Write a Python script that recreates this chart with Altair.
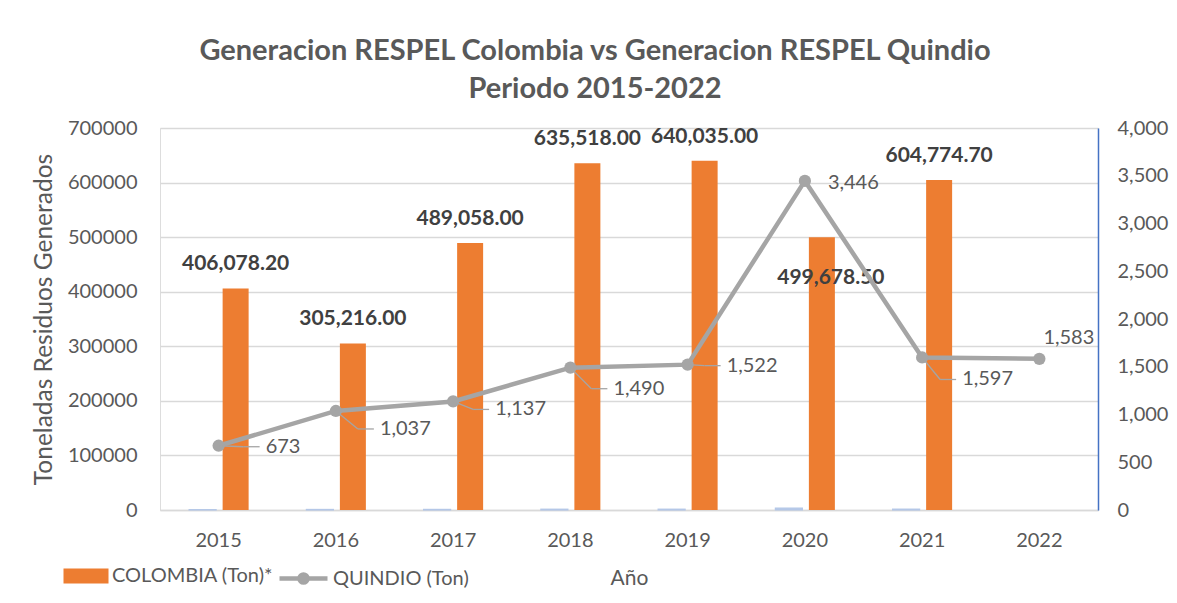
import altair as alt
import pandas as pd

# ---------------- data ----------------
years = ["2015", "2016", "2017", "2018", "2019", "2020", "2021", "2022"]
colombia = [406078.20, 305216.00, 489058.00, 635518.00, 640035.00, 499678.50, 604774.70, None]
quindio = [673, 1037, 1137, 1490, 1522, 3446, 1597, 1583]
series_names = ["COLOMBIA (Ton)*", "QUINDIO (Ton)"]
left_ticks = [0, 100000, 200000, 300000, 400000, 500000, 600000, 700000]
right_ticks = [0, 500, 1000, 1500, 2000, 2500, 3000, 3500, 4000]
title_lines = ["Generacion RESPEL Colombia vs Generacion RESPEL Quindio", "Periodo 2015-2022"]

df = pd.DataFrame({"year": years, "colombia": colombia, "quindio": quindio})
df["s_col"] = series_names[0]
df["s_qui"] = series_names[1]

# ---------------- style ----------------
FONT = "Lato"
ORANGE = "#ED7D31"
GRAY = "#A5A5A5"
TXT = "#595959"
DARK = "#404040"
BLUE = "#4472C4"

# label offsets (pixels) for the QUINDIO labels: dx, dy, leader line
q_label_style = {
    "2015": (47, 1, True),
    "2016": (44, 18, True),
    "2017": (42, 8, True),
    "2018": (43, 21, True),
    "2019": (39, 1, True),
    "2020": (23, 2, False),
    "2021": (40, 22, True),
    "2022": (4, -21, False),
}

x_axis = alt.Axis(
    title="Año", labelAngle=0, ticks=False, domainColor="#D9D9D9", domainWidth=1.5,
    labelFont=FONT, labelFontSize=20, labelColor=TXT, labelPadding=20,
    titleFont=FONT, titleFontSize=21, titleFontWeight="normal", titleColor=TXT,
    titlePadding=17, grid=False,
)
x_scale = alt.Scale(paddingInner=0, paddingOuter=0)


def xe(**kw):
    return alt.X("year:N", sort=years, scale=x_scale, axis=x_axis, **kw)


yl_axis = alt.Axis(
    values=left_ticks, format="d", title="Toneladas Residuos Generados",
    domain=False, ticks=False, grid=True, gridColor="#D9D9D9", gridWidth=1.3,
    labelFont=FONT, labelFontSize=20, labelColor=TXT, labelPadding=23,
    titleFont=FONT, titleFontSize=24.5, titleFontWeight="normal", titleColor=TXT,
    titlePadding=11,
)
yr_axis = alt.Axis(
    orient="right", values=right_ticks, format=",.0f", title=None,
    domain=True, domainColor=BLUE, domainWidth=1.5, ticks=False, grid=False,
    labelFont=FONT, labelFontSize=20, labelColor=TXT, labelPadding=19,
)
yl_scale = alt.Scale(domain=[0, 700000])
yr_scale = alt.Scale(domain=[0, 4000])


def yl(field):
    return alt.Y(field, scale=yl_scale, axis=yl_axis, title="Toneladas Residuos Generados")


def yr(field):
    return alt.Y(field, scale=yr_scale, axis=yr_axis, title=None)


base = alt.Chart(df)

bars = base.mark_bar(xOffset=17, width=26).encode(
    x=xe(),
    y=yl("colombia:Q"),
    color=alt.Color(
        "s_col:N",
        scale=alt.Scale(domain=[series_names[0]], range=[ORANGE]),
        legend=alt.Legend(
            title=None, orient="none", legendX=-89, legendY=433,
            symbolType="M-1.5,-0.5H1.5V0.5H-1.5Z", symbolSize=900,
            symbolStrokeWidth=0, labelOffset=11, labelLimit=400,
            labelFont=FONT, labelFontSize=20, labelColor=TXT, padding=0,
        ),
    ),
)

blue_bars = base.transform_filter("datum.colombia != null").mark_bar(
    xOffset=-16, width=27, color="#B4C7E7", stroke="#B4C7E7", strokeWidth=1.2
).encode(x=xe(), y=yl("quindio:Q"))

bar_text_normal = base.transform_filter(
    "datum.colombia != null && datum.year != '2020'"
).mark_text(
    xOffset=17, dy=-24, baseline="middle", font=FONT, fontWeight="bold",
    fontSize=21, color=DARK,
).encode(
    x=xe(), y=yl("colombia:Q"),
    text=alt.Text("colombia:Q", format=",.2f"),
)

bar_text_2020 = base.transform_filter("datum.year == '2020'").mark_text(
    xOffset=26, dy=41, baseline="middle", font=FONT, fontWeight="bold",
    fontSize=21, color=DARK,
).encode(
    x=xe(), y=yl("colombia:Q"),
    text=alt.Text("colombia:Q", format=",.2f"),
)

left = alt.layer(bars, blue_bars, bar_text_normal, bar_text_2020)

line = base.mark_line(strokeWidth=4.5).encode(
    x=xe(),
    y=yr("quindio:Q"),
    stroke=alt.Stroke(
        "s_qui:N",
        scale=alt.Scale(domain=[series_names[1]], range=[GRAY]),
        legend=alt.Legend(
            title=None, orient="none", legendX=126, legendY=433,
            symbolType="M-1.6,0H1.6M-0.27,0A0.27,0.27,0,1,1,0.27,0A0.27,0.27,0,1,1,-0.27,0",
            symbolSize=900, symbolStrokeWidth=4.5, symbolFillColor=GRAY,
            labelOffset=12, labelLimit=400,
            labelFont=FONT, labelFontSize=20, labelColor=TXT, padding=0,
        ),
    ),
)

points = base.mark_point(filled=True, size=150, color=GRAY, opacity=1).encode(
    x=xe(), y=yr("quindio:Q")
)

right_layers = [line, points]
for yrk, (dx, dy, leader) in q_label_style.items():
    sub = base.transform_filter(f"datum.year == '{yrk}'")
    right_layers.append(
        sub.mark_text(
            align="left", baseline="middle", dx=dx, dy=dy, font=FONT,
            fontSize=20, color=TXT,
        ).encode(
            x=xe(), y=yr("quindio:Q"),
            text=alt.Text("quindio:Q", format=","),
        )
    )
    if leader:
        ex = dx - 22
        for (x0, y0, x1, y1) in [(0, 0, ex, dy), (ex, dy, dx - 6, dy)]:
            right_layers.append(
                sub.mark_rule(
                    color=GRAY, strokeWidth=1.3,
                    xOffset=x0, yOffset=y0, x2Offset=x1, y2Offset=y1,
                ).encode(
                    x=xe(bandPosition=0.5),
                    x2=alt.X2("year:N"),
                    y=yr("quindio:Q"),
                    y2=alt.Y2("quindio:Q"),
                )
            )

right = alt.layer(*right_layers)

chart = (
    alt.layer(left, right)
    .resolve_scale(y="independent", color="independent")
    .properties(
        width=938, height=382,
        autosize=alt.AutoSizeParams(type="none"),
        padding={"left": 152, "top": 120, "right": 71, "bottom": 80},
        title=alt.TitleParams(
            title_lines, font=FONT, fontSize=29, fontWeight="bold", color=TXT,
            anchor="middle", dx=-34, lineHeight=38, offset=14,
        ),
    )
    .configure_view(strokeWidth=0)
    .configure(background="white")
)

chart.save("out.html", embed_options={"renderer": "svg", "actions": False})
